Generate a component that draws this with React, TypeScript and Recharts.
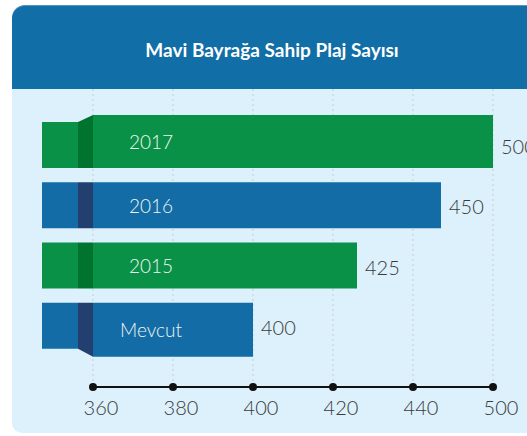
import { BarChart, Bar, XAxis, YAxis, CartesianGrid, LabelList } from 'recharts';

const categories = ['2017', '2016', '2015', 'Mevcut'];
// printed numbers next to the bars
const values = [500, 450, 425, 400];
// where each bar actually ends against the printed axis (the infographic is not to scale)
const barEnds = [460, 447, 426, 400];
const tickValues = [360, 380, 400, 420, 440, 460];
const tickLabels = ['360', '380', '400', '420', '440', '500'];
const barColors = ['#0a9148', '#136ca6', '#0a9148', '#136ca6'];
const foldColors = ['#00742f', '#233f6f', '#00742f', '#233f6f'];

const FONT = 'Lato, "Open Sans", sans-serif';

const data = categories.map((name, i) => ({
  name,
  end: barEnds[i],
  value: values[i],
  fill: barColors[i],
  fold: foldColors[i],
}));

function BarShape(props: any) {
  const { x, y, width, height, index, payload } = props;
  const last = categories.length - 1;
  const top = index === 0 ? y - 7 : y;
  const bottom = index === last ? y + height + 8 : y + height;
  let fold = `${x - 15},${y} ${x},${y} ${x},${y + height} ${x - 15},${y + height}`;
  if (index === 0) fold = `${x - 15},${y} ${x},${top} ${x},${y + height} ${x - 15},${y + height}`;
  if (index === last) fold = `${x - 15},${y} ${x},${y} ${x},${bottom} ${x - 15},${y + height}`;
  return (
    <g>
      <rect x={x - 51} y={y} width={36} height={height} fill={payload.fill} />
      <polygon points={fold} fill={payload.fold} />
      <rect x={x} y={top} width={width} height={bottom - top} fill={payload.fill} />
      <text
        x={x + 58}
        y={(top + bottom) / 2}
        textAnchor="middle"
        dominantBaseline="central"
        fill="#eef6f1"
        fontSize={19}
        fontWeight={300}
        fontFamily={FONT}
      >
        {payload.name}
      </text>
    </g>
  );
}

function ValueLabel(props: any) {
  const { x, y, width, height, value } = props;
  return (
    <text
      x={x + width + 8}
      y={y + height / 2 + 1}
      dominantBaseline="central"
      fill="#3a3a3a"
      fontSize={20}
      fontWeight={300}
      fontFamily={FONT}
    >
      {value}
    </text>
  );
}

function AxisTick(props: any) {
  const { x, y, payload } = props;
  const i = tickValues.indexOf(payload.value);
  return (
    <g>
      <circle cx={x} cy={y} r={4} fill="#111" />
      <text x={x + 8} y={y + 28} textAnchor="middle" fill="#3a3a3a" fontSize={20} fontWeight={300} fontFamily={FONT}>
        {tickLabels[i]}
      </text>
    </g>
  );
}

export default function App() {
  return (
    <div style={{ position: 'absolute', left: 0, top: 0, width: 527, height: 436, background: '#fff', overflow: 'hidden', fontFamily: FONT }}>
      <div style={{ position: 'absolute', left: 12, top: 89, width: 530, height: 344, background: '#ddf1fc', borderBottomLeftRadius: 10 }} />
      <div
        style={{
          position: 'absolute', left: 12, top: 5, width: 530, height: 84, background: '#116ea6',
          borderTopLeftRadius: 13, borderTop: '1px solid #4f95c2', boxSizing: 'border-box',
          color: '#fff', fontWeight: 700, fontSize: 19, display: 'flex', alignItems: 'center', justifyContent: 'center',
          paddingRight: 10, paddingTop: 4,
        }}
      >
        Mavi Bayrağa Sahip Plaj Sayısı
      </div>
      <div style={{ position: 'absolute', left: 0, top: 0 }}>
        <BarChart width={527} height={436} data={data} layout="vertical" margin={{ top: 89, right: 34, bottom: 9, left: 93 }}>
          <CartesianGrid horizontal={false} stroke="#c3cdd3" strokeDasharray="2 3" />
          <XAxis
            type="number"
            domain={[360, 460]}
            ticks={tickValues}
            height={40}
            axisLine={{ stroke: '#111', strokeWidth: 2 }}
            tickLine={false}
            tickSize={0}
            tickMargin={0}
            tick={<AxisTick />}
          />
          <YAxis type="category" dataKey="name" hide padding={{ top: 26, bottom: 31 }} />
          <Bar dataKey="end" barSize={46} shape={<BarShape />} isAnimationActive={false}>
            <LabelList dataKey="value" content={<ValueLabel />} />
          </Bar>
        </BarChart>
      </div>
    </div>
  );
}
